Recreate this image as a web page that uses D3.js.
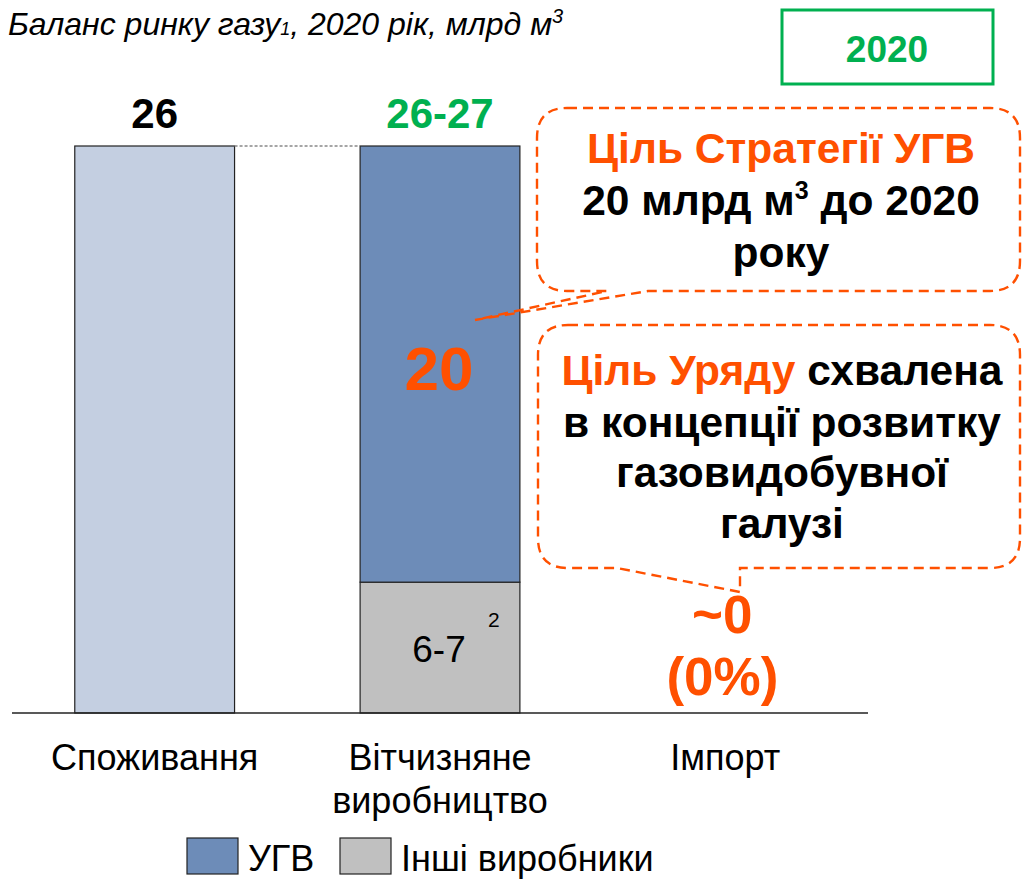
<!DOCTYPE html>
<html>
<head>
<meta charset="utf-8">
<script src="https://cdn.jsdelivr.net/npm/d3@7"></script>
<style>
  body { margin: 0; background: #fff; }
  svg { font-family: "Liberation Sans", Arial, sans-serif; }
</style>
</head>
<body>
<svg width="1022" height="881"></svg>
<script>
// data
const categories = ["Споживання", "Вітчизняне виробництво", "Імпорт"];
const consumption = [26];
const ugv = [20];
const others = [6];
const importVal = [0];
const topLabels = ["26", "26-27"];
const segLabels = ["20", "6-7"];
const importLabels = ["~0", "(0%)"];
const legendNames = ["УГВ", "Інші виробники"];

const orange = "#ff5000", green = "#00b050";
const cUgv = "#6d8cb8", cOther = "#c0c0c0", cCons = "#c4cfe1";

let svg = d3.select("svg");

let x = d3.scaleBand().domain(categories).range([12, 868]).paddingInner(0.44).paddingOuter(0.22);
let y = d3.scaleLinear().domain([0, 26]).range([713, 146]);
let bw = x.bandwidth();

// title
let title = svg.append("text").attr("x", 8).attr("y", 35)
  .attr("font-size", 32).attr("font-style", "italic").attr("fill", "#000");
title.append("tspan").text("Баланс ринку газу");
title.append("tspan").attr("font-size", 18).text("1");
title.append("tspan").text(", 2020 рік, млрд м");
title.append("tspan").attr("font-size", 20).attr("dy", -12).text("3");

// 2020 box
svg.append("rect").attr("x", 782).attr("y", 10).attr("width", 211).attr("height", 74)
  .attr("fill", "none").attr("stroke", green).attr("stroke-width", 3);
svg.append("text").attr("x", 887).attr("y", 62).attr("text-anchor", "middle")
  .attr("font-size", 37).attr("font-weight", "bold").attr("fill", green).text("2020");

// bars
let stack = [
  {cat: categories[0], y0: 0, y1: consumption[0], color: cCons},
  {cat: categories[1], y0: 0, y1: others[0], color: cOther},
  {cat: categories[1], y0: others[0], y1: others[0] + ugv[0], color: cUgv}
];
svg.selectAll("rect.bar").data(stack).enter().append("rect")
  .attr("class", "bar")
  .attr("x", d => x(d.cat))
  .attr("y", d => y(d.y1))
  .attr("width", bw)
  .attr("height", d => y(d.y0) - y(d.y1))
  .attr("fill", d => d.color)
  .attr("stroke", "#222").attr("stroke-width", 1.2);

// connector between bars
svg.append("line")
  .attr("x1", x(categories[0]) + bw).attr("x2", x(categories[1]))
  .attr("y1", y(consumption[0])).attr("y2", y(consumption[0]))
  .attr("stroke", "#888").attr("stroke-width", 1.5).attr("stroke-dasharray", "3,2");

// baseline
svg.append("line").attr("x1", 12).attr("x2", 868).attr("y1", y(0)).attr("y2", y(0))
  .attr("stroke", "#222").attr("stroke-width", 1.5);

// top labels
svg.append("text").attr("x", x(categories[0]) + bw / 2).attr("y", y(consumption[0]) - 18)
  .attr("text-anchor", "middle").attr("font-size", 42).attr("font-weight", "bold").text(topLabels[0]);
svg.append("text").attr("x", x(categories[1]) + bw / 2).attr("y", y(others[0] + ugv[0]) - 18)
  .attr("text-anchor", "middle").attr("font-size", 42).attr("font-weight", "bold")
  .attr("fill", green).text(topLabels[1]);

// segment labels
svg.append("text").attr("x", x(categories[1]) + bw / 2 - 1).attr("y", y(others[0] + ugv[0] / 2) + 26)
  .attr("text-anchor", "middle").attr("font-size", 62).attr("font-weight", "bold")
  .attr("fill", orange).text(segLabels[0]);
svg.append("text").attr("x", x(categories[1]) + bw / 2 - 1).attr("y", y(others[0] / 2) + 14)
  .attr("text-anchor", "middle").attr("font-size", 37).text(segLabels[1]);
svg.append("text").attr("x", x(categories[1]) + bw - 26).attr("y", y(others[0]) + 45)
  .attr("text-anchor", "middle").attr("font-size", 21).text("2");

// import labels
let ix = x(categories[2]) + bw / 2 - 3;
svg.append("text").attr("x", ix).attr("y", y(importVal[0]) - 80)
  .attr("text-anchor", "middle").attr("font-size", 53).attr("font-weight", "bold")
  .attr("fill", orange).text(importLabels[0]);
svg.append("text").attr("x", ix).attr("y", y(importVal[0]) - 18)
  .attr("text-anchor", "middle").attr("font-size", 53).attr("font-weight", "bold")
  .attr("fill", orange).text(importLabels[1]);

// category labels
categories.forEach((c, i) => {
  let words = i === 1 ? c.split(" ") : [c];
  let t = svg.append("text").attr("x", x(c) + bw / 2).attr("y", 770)
    .attr("text-anchor", "middle").attr("font-size", 36).attr("fill", "#000");
  words.forEach((w, j) => t.append("tspan").attr("x", x(c) + bw / 2).attr("dy", j ? 43 : 0).text(w));
});

// callouts
function callout(pts) {
  svg.append("path").attr("d", pts).attr("fill", "none")
    .attr("stroke", orange).attr("stroke-width", 2.4).attr("stroke-dasharray", "10,6");
}
let r = 30;
// callout 1: box 537..1020, 108..291, pointer to (475,320)
callout(`M${537 + r},108 H${1020 - r} Q1020,108 1020,${108 + r} V${291 - r} Q1020,291 ${1020 - r},291
  H648 L475,320 L607,291 H${537 + r} Q537,291 537,${291 - r} V${108 + r} Q537,108 ${537 + r},108 Z`);
// callout 2: box 538..1020, 325..568, pointer to (740,592)
callout(`M${538 + r},325 H${1020 - r} Q1020,325 1020,${325 + r} V${568 - r} Q1020,568 ${1020 - r},568
  H740 V592 L617,568 H${538 + r} Q538,568 538,${568 - r} V${325 + r} Q538,325 ${538 + r},325 Z`);

let c1 = svg.append("text").attr("text-anchor", "middle").attr("font-size", 42.5).attr("font-weight", "bold");
c1.append("tspan").attr("x", 781).attr("y", 163).attr("fill", orange).text("Ціль Стратегії УГВ");
let l2 = c1.append("tspan").attr("x", 781).attr("y", 215);
l2.append("tspan").text("20 млрд м");
l2.append("tspan").attr("font-size", 25).attr("dy", -16).text("3");
l2.append("tspan").attr("dy", 16).text(" до 2020");
c1.append("tspan").attr("x", 781).attr("y", 267).text("року");

let c2 = svg.append("text").attr("text-anchor", "middle").attr("font-size", 42.5).attr("font-weight", "bold");
let c2l1 = c2.append("tspan").attr("x", 782).attr("y", 385);
c2l1.append("tspan").attr("fill", orange).text("Ціль Уряду");
c2l1.append("tspan").text(" схвалена");
c2.append("tspan").attr("x", 782).attr("y", 437).text("в концепції розвитку");
c2.append("tspan").attr("x", 782).attr("y", 487).text("газовидобувної");
c2.append("tspan").attr("x", 782).attr("y", 538).text("галузі");

// legend
let legend = [{name: legendNames[0], color: cUgv, x: 187}, {name: legendNames[1], color: cOther, x: 340}];
let lg = svg.selectAll("g.leg").data(legend).enter().append("g").attr("class", "leg")
  .attr("transform", d => `translate(${d.x},838)`);
lg.append("rect").attr("width", 51).attr("height", 36).attr("fill", d => d.color)
  .attr("stroke", "#222").attr("stroke-width", 1.2);
lg.append("text").attr("x", 61).attr("y", 33).attr("font-size", 36).text(d => d.name);
</script>
</body>
</html>
